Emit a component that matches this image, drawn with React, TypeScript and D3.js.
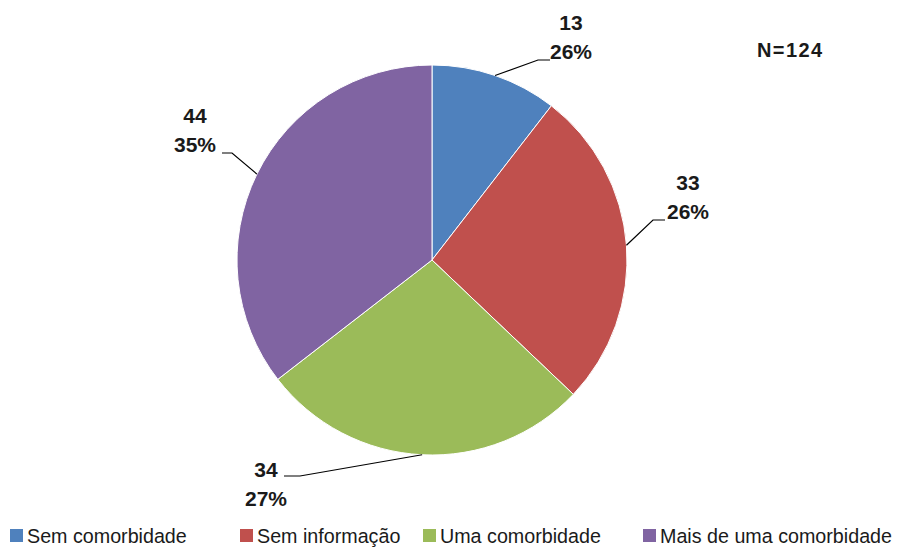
import React from "react";
import * as d3 from "d3";

const WIDTH = 898;
const HEIGHT = 548;
const CX = 432;
const CY = 260;
const RADIUS = 195;

const categories = ["Sem comorbidade", "Sem informação", "Uma comorbidade", "Mais de uma comorbidade"];
const counts = [13, 33, 34, 44];
const percentLabels = ["26%", "26%", "27%", "35%"];
const colors = ["#4F81BD", "#C0504D", "#9BBB59", "#8064A2"];
const totalLabel = "N=124";

// where Excel placed each data label (text centre x, first baseline, elbow, line end)
const LABEL_LAYOUT = [
  { tx: 571, ty: 30, ex: 538, ey: 60, lx: 550 },
  { tx: 688, ty: 190, ex: 653, ey: 220, lx: 665 },
  { tx: 266, ty: 477, ex: 300, ey: 476, lx: 284 },
  { tx: 195, ty: 123, ex: 232, ey: 153, lx: 222 },
];

const LEGEND_X = [10, 240, 423, 643];

const FONT = "'Liberation Sans', Arial, sans-serif";

export default function App() {
  const slices = d3
    .pie<number>()
    .sort(null)
    .value((d) => d)(counts);
  const arc = d3.arc<d3.PieArcDatum<number>>().innerRadius(0).outerRadius(RADIUS);

  return (
    <svg
      width={WIDTH}
      height={HEIGHT}
      style={{ position: "absolute", left: 0, top: 0, background: "#fff" }}
      fontFamily={FONT}
    >
      <g transform={`translate(${CX},${CY})`}>
        {slices.map((s, i) => (
          <path key={i} d={arc(s) || ""} fill={colors[i]} stroke="#fff" strokeWidth={1} />
        ))}
      </g>

      {slices.map((s, i) => {
        const mid = (s.startAngle + s.endAngle) / 2;
        const px = CX + RADIUS * Math.sin(mid);
        const py = CY - RADIUS * Math.cos(mid);
        const L = LABEL_LAYOUT[i];
        return (
          <g key={i}>
            <polyline
              points={`${px},${py} ${L.ex},${L.ey} ${L.lx},${L.ey}`}
              fill="none"
              stroke="#000"
              strokeWidth={1.2}
            />
            <text x={L.tx} y={L.ty} textAnchor="middle" fontSize={21} fontWeight="bold" fill="#1a1a1a">
              {counts[i]}
            </text>
            <text x={L.tx} y={L.ty + 29} textAnchor="middle" fontSize={21} fontWeight="bold" fill="#1a1a1a">
              {percentLabels[i]}
            </text>
          </g>
        );
      })}

      <text x={757} y={57} fontSize={20} fontWeight="bold" fill="#1a1a1a" textLength={65}>
        {totalLabel}
      </text>

      {categories.map((c, i) => (
        <g key={c} transform={`translate(${LEGEND_X[i]},528)`}>
          <rect x={0} y={1} width={13} height={13} fill={colors[i]} />
          <text x={17} y={14.5} fontSize={19.7} fill="#1a1a1a">
            {c}
          </text>
        </g>
      ))}
    </svg>
  );
}
